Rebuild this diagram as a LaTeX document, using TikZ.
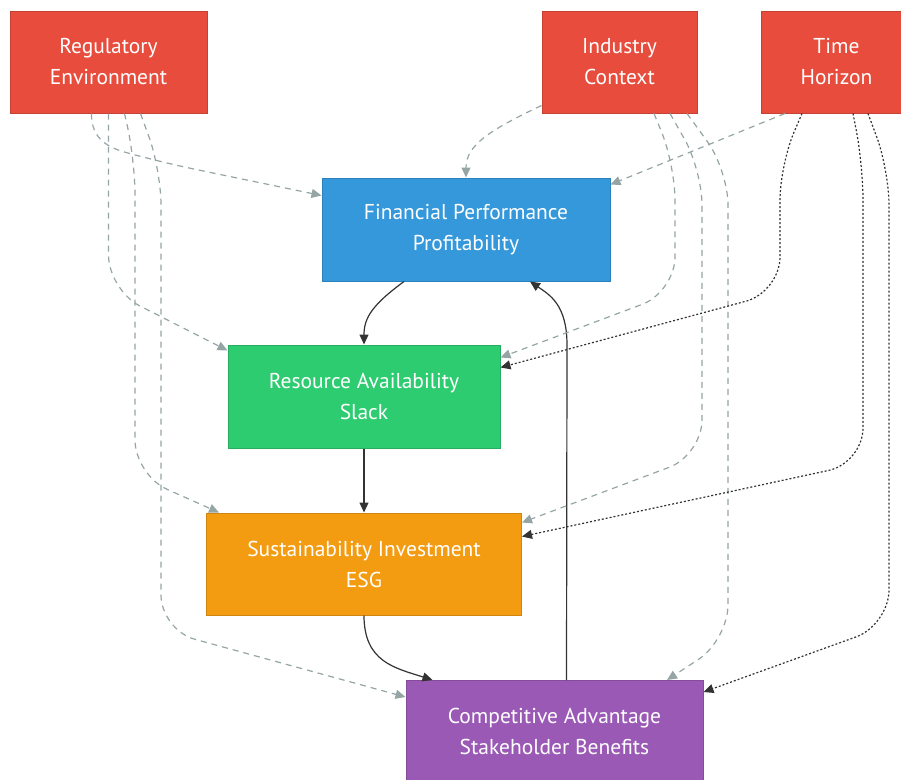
\documentclass[tikz,border=0pt]{standalone}
\usepackage{fontspec}
\setmainfont{PT Sans}
\usepackage{xcolor}
\usetikzlibrary{arrows.meta,calc}
\definecolor{cRed}{HTML}{E74C3C}
\definecolor{cBlue}{HTML}{3498DB}
\definecolor{cGreen}{HTML}{2ECC71}
\definecolor{cOrange}{HTML}{F39C12}
\definecolor{cPurple}{HTML}{9B59B6}
\definecolor{cGray}{HTML}{95A5A6}
\definecolor{cDark}{HTML}{333333}
\tikzset{
  fbox/.style={draw=#1!85!black,fill=#1,line width=1pt,align=center,text=white,font=\fontsize{21.5}{31}\selectfont,inner sep=0pt},
  ctx/.style={fbox=cRed,minimum height=102pt},
  link/.style={-{Triangle[length=10pt,width=9pt]},line width=1.2pt,color=cDark},
  ctxlink/.style={link,color=cGray,dash pattern=on 6pt off 5pt,rounded corners=35pt},
  tlink/.style={link,dash pattern=on 2pt off 2pt,rounded corners=35pt},
}
\begin{document}
\begin{tikzpicture}[x=1pt,y=-1pt]
  \useasboundingbox (0,0) rectangle (901,779);
  \node[ctx,minimum width=197pt] (reg) at (108.5,62) {Regulatory\\Environment};
  \node[ctx,minimum width=155pt] (ind) at (619.5,62) {Industry\\Context};
  \node[ctx,minimum width=151pt] (tim) at (836.5,62) {Time\\Horizon};
  \node[fbox=cBlue,minimum width=288pt,minimum height=103pt] (fin) at (466,229.5) {Financial Performance\\Profitability};
  \node[fbox=cGreen,minimum width=272pt,minimum height=103pt] (res) at (364,396.5) {Resource Availability\\Slack};
  \node[fbox=cOrange,minimum width=315pt,minimum height=102pt] (sus) at (364,564) {Sustainability Investment\\ESG};
  \node[fbox=cPurple,minimum width=297pt,minimum height=102pt] (com) at (554.5,731.5) {Competitive Advantage\\Stakeholder Benefits};
  % main chain
  \draw[link] ($(fin.south)+(-62,0)$) .. controls (372,305) and (364,318) .. (res.north);
  \draw[link] (res) -- (sus);
  \draw[link] (sus.south) .. controls (364,662) and (395,668) .. ($(com.north west)+(27,0)$);
  \draw[link] ($(com.north)+(12,0)$) -- (567,345) .. controls (567,305) and (550,295) .. ($(fin.south)+(64,0)$);
  % context factors
  \draw[ctxlink] ($(reg.south)+(-17,0)$) .. controls (91,140) and (110,148) .. (160,162) -- ($(fin.north west)+(0,18)$);
  \draw[ctxlink] (reg.south) -- (108.5,290) -- ($(res.north west)+(0,6)$);
  \draw[ctxlink] ($(reg.south)+(16,0)$) -- (135,160) -- (135,475) -- ($(sus.north west)+(13,0)$);
  \draw[ctxlink] ($(reg.south)+(32,0)$) -- (161,170) -- (161,630) -- ($(com.north west)+(0,17)$);
  \draw[ctxlink] ($(ind.south west)+(0,-8)$) .. controls (490,130) and (466,145) .. (fin.north);
  \draw[ctxlink] ($(ind.south)+(34.5,0)$) -- (675,165) -- (675,292) -- ($(res.north east)+(0,13)$);
  \draw[ctxlink] ($(ind.south)+(50.5,0)$) -- (702,170) -- (702,455) -- ($(sus.north east)+(0,10)$);
  \draw[ctxlink] ($(ind.south)+(67.5,0)$) -- (728,170) -- (728,640) -- ($(com.north)+(112.5,0)$);
  \draw[ctxlink] ($(tim.south)+(-51.5,0)$) -- ($(fin.north east)+(0,7)$);
  \draw[tlink] ($(tim.south)+(-34.5,0)$) -- (780,165) -- (780,292) -- ($(res.north east)+(0,23)$);
  \draw[tlink] ($(tim.south)+(16.5,0)$) -- (863,165) -- (863,463) -- ($(sus.north east)+(0,24)$);
  \draw[tlink] ($(tim.south)+(31.5,0)$) -- (889,170) -- (889,625) -- ($(com.north east)+(0,12)$);
\end{tikzpicture}
\end{document}
